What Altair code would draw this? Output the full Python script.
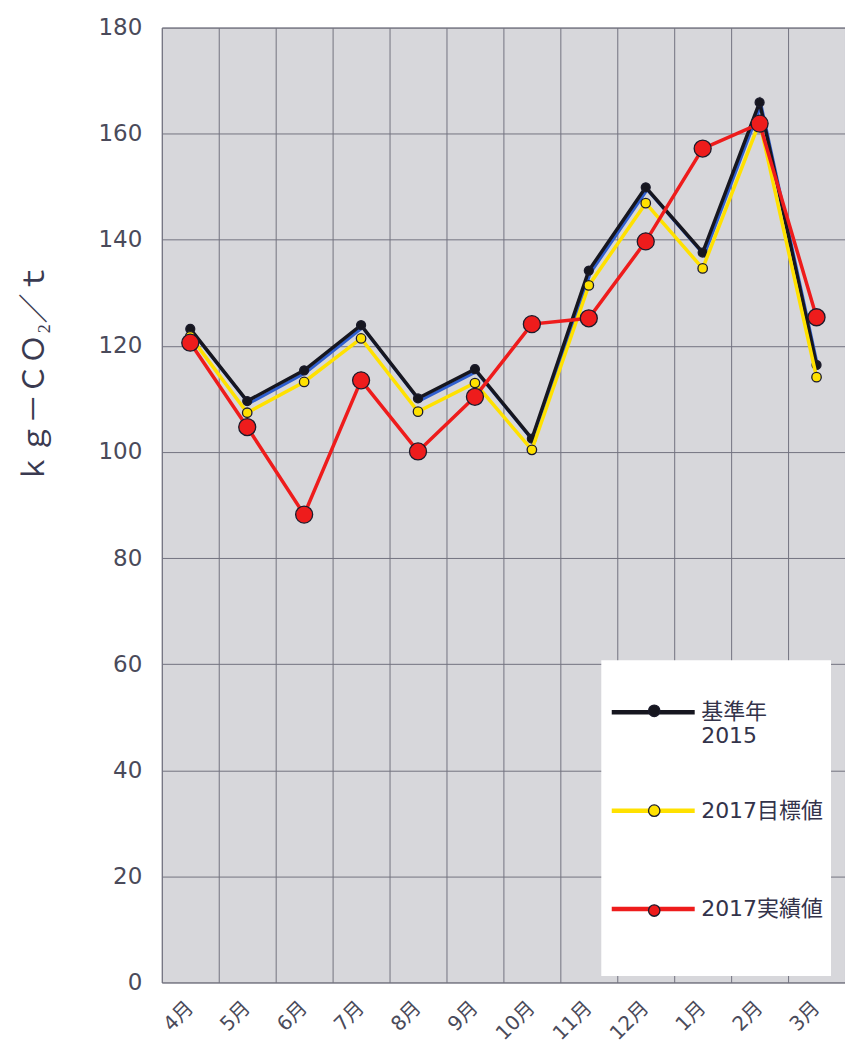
import altair as alt
import pandas as pd

# Monthly CO2 intensity (kg-CO2 per tonne), fiscal year April -> March
months = ["4月", "5月", "6月", "7月", "8月", "9月", "10月", "11月", "12月", "1月", "2月", "3月"]
base_2015 = [123.2, 109.6, 115.4, 123.9, 110.1, 115.6, 102.5, 134.2, 149.9, 137.6, 165.9, 116.4]
target_2017 = [121.8, 107.4, 113.2, 121.4, 107.6, 113.0, 100.4, 131.4, 146.9, 134.6, 162.2, 114.1]
actual_2017 = [120.6, 104.7, 88.2, 113.5, 100.1, 110.4, 124.1, 125.2, 139.7, 157.2, 161.9, 125.4]

series_names = ["基準年2015", "2017目標値", "2017実績値"]
marker_keys = ["点:基準年2015", "点:2017目標値", "点:2017実績値"]
series_colors = ["#16161f", "#ffe100", "#ee1c1c"]
marker_sizes = [80, 90, 290]

rows = []
for name, key, vals in zip(series_names, marker_keys, [base_2015, target_2017, actual_2017]):
    for m, v in zip(months, vals):
        # the marker key keeps the marker legend separate from the line legend
        rows.append({"月": m, "系列": name, "marker": key, "値": v})
df = pd.DataFrame(rows)

LABEL_FONT = "DejaVu Sans, Noto Sans CJK JP"

# legend labels: two-line base-year label; blank trailing lines keep rows evenly spaced
LEGEND_LABEL_EXPR = (
    "datum.value == '基準年2015' ? ['基準年', '2015'] : "
    "datum.value == '2017目標値' ? ['2017目標値', ''] : [datum.label, '', '']"
)

x_enc = alt.X(
    "月:N",
    sort=months,
    bandPosition=0.5,
    scale=alt.Scale(type="band", paddingInner=0, paddingOuter=0),
    axis=alt.Axis(
        title=None,
        bandPosition=0,
        labelOffset=0,
        labelAngle=-45,
        labelAlign="right",
        labelBaseline="middle",
        labelPadding=22,
        labelLimit=0,
        labelOverlap=False,
        labelFont=LABEL_FONT,
        labelFontSize=20,
        labelColor="#4a4a5a",
        ticks=False,
        domain=False,
        grid=True,
    ),
)
y_enc = alt.Y(
    "値:Q",
    scale=alt.Scale(domain=[0, 180], nice=False, zero=True),
    axis=alt.Axis(
        values=list(range(0, 181, 20)),
        title="ｋｇ－ＣＯ₂／ｔ",
        titleFont="Noto Sans CJK JP",
        titleFontSize=30,
        titleFontWeight="normal",
        titleColor="#3a3a50",
        titleX=-127,
        titleY=346,
        titleAlign="center",
        titleBaseline="middle",
        labelFont="DejaVu Sans",
        labelFontSize=23,
        labelColor="#4a4a5a",
        labelPadding=20,
        ticks=False,
        domain=False,
        grid=True,
    ),
)

color_enc = alt.Color(
    "系列:N",
    scale=alt.Scale(domain=series_names, range=series_colors),
    legend=alt.Legend(
        orient="none",
        legendX=440,
        legendY=633.5,
        title=None,
        symbolType="stroke",
        symbolSize=6900,
        symbolStrokeWidth=4.5,
        fillColor="white",
        padding=8,
        rowPadding=19.5,
        labelFont=LABEL_FONT,
        labelFontSize=22,
        labelColor="#33334a",
        labelOffset=4,
        labelLimit=300,
        labelExpr=LEGEND_LABEL_EXPR,
        zindex=1,
    ),
)
fill_enc = alt.Fill(
    "marker:N",
    scale=alt.Scale(domain=marker_keys, range=series_colors),
    legend=alt.Legend(
        orient="none",
        legendX=473,
        legendY=664,
        title=None,
        symbolType="circle",
        symbolSize=130,
        symbolStrokeColor="#1b1b2b",
        symbolStrokeWidth=1.3,
        padding=10,
        rowPadding=80,
        labelFontSize=20,
        labelOpacity=0,
        zindex=2,
    ),
)

base = alt.Chart(df)
layers = []
for name, size in zip(series_names, marker_sizes):
    sub = base.transform_filter(alt.datum["系列"] == name)
    if name == "基準年2015":
        # blue misregistration halo under the base-year line
        layers.append(
            sub.mark_line(color="#2f5fd0", strokeWidth=3, xOffset=1.5, yOffset=2.5).encode(x=x_enc, y=y_enc)
        )
    layers.append(sub.mark_line(strokeWidth=3.5).encode(x=x_enc, y=y_enc, color=color_enc))
    layers.append(
        sub.mark_point(shape="circle", filled=True, stroke="#1b1b2b", strokeWidth=1.3, opacity=1).encode(
            x=x_enc, y=y_enc, fill=fill_enc, size=alt.value(size)
        )
    )

chart = (
    alt.layer(*layers)
    .properties(
        width=684,
        height=956,
        autosize=alt.AutoSizeParams(type="none"),
        padding={"left": 162, "top": 27, "right": 0, "bottom": 71},
        background="white",
    )
    .configure_view(fill="#d7d7db", stroke="#767684", strokeWidth=1)
    .configure_axis(gridColor="#72727f", gridWidth=1, gridOpacity=1)
)

chart.save("out.html", embed_options={"renderer": "svg", "actions": False})
